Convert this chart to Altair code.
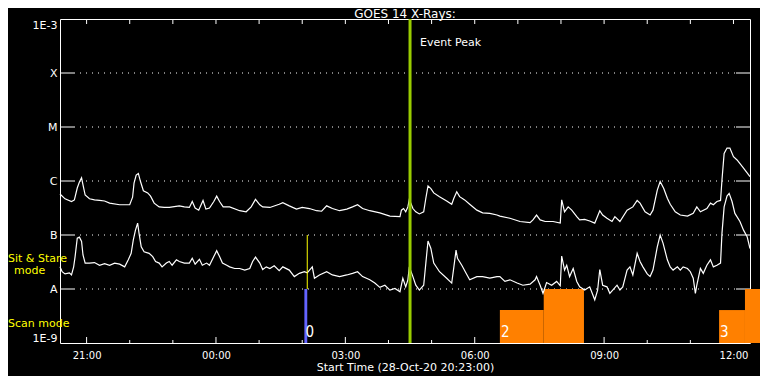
import altair as alt
import pandas as pd

FONT = "DejaVu Sans"
START = 20 + 23 / 60.0   # 20:23 UT, start of plot
SPAN_H = 16

# ---- GOES long channel (1-8 A): minutes after start, log10 flux (W/m^2)
long_min = [0, 7, 16, 20, 24, 27, 30, 32, 35, 41, 48, 55, 62, 69, 83, 97, 101, 103, 106, 109,
            112, 116, 122, 126, 131, 138, 145, 152, 166, 173, 180, 184, 188, 193, 199, 203, 208,
            214, 218, 222, 227, 236, 250, 259, 266, 272, 278, 282, 292, 305, 310, 319, 329, 337,
            347, 357, 364, 371, 379, 389, 399, 407, 414, 421, 431, 445, 459, 473, 475, 478, 481,
            484, 486, 491, 495, 500, 506, 509, 512, 516, 520, 528, 538, 545, 548, 552, 556, 563,
            570, 580, 588, 598, 608, 612, 626, 640, 654, 658, 663, 668, 675, 686, 696, 698, 702,
            707, 712, 719, 723, 730, 737, 744, 751, 755, 761, 768, 772, 779, 789, 797, 803, 807,
            814, 821, 825, 831, 835, 840, 845, 849, 856, 863, 873, 881, 886, 891, 900, 905, 909,
            914, 919, 921, 924, 928, 932, 937, 942, 951, 960]
long_log = [-6.24, -6.33, -6.38, -6.35, -6.13, -6.02, -5.94, -6.07, -6.26, -6.33, -6.35, -6.36,
            -6.37, -6.41, -6.44, -6.44, -6.30, -6.04, -5.89, -5.86, -6.01, -6.18, -6.22, -6.28,
            -6.41, -6.48, -6.49, -6.49, -6.46, -6.48, -6.49, -6.38, -6.50, -6.54, -6.36, -6.52,
            -6.50, -6.38, -6.28, -6.38, -6.48, -6.48, -6.55, -6.57, -6.48, -6.34, -6.44, -6.48,
            -6.49, -6.43, -6.40, -6.46, -6.52, -6.49, -6.51, -6.55, -6.56, -6.46, -6.51, -6.55,
            -6.52, -6.48, -6.44, -6.51, -6.55, -6.59, -6.65, -6.66, -6.54, -6.51, -6.57, -6.48,
            -6.34, -6.51, -6.57, -6.61, -6.57, -6.32, -6.09, -6.14, -6.22, -6.29, -6.37, -6.43,
            -6.32, -6.20, -6.29, -6.35, -6.43, -6.54, -6.59, -6.60, -6.63, -6.65, -6.69, -6.75,
            -6.77, -6.72, -6.63, -6.72, -6.75, -6.75, -6.78, -6.35, -6.57, -6.48, -6.54, -6.66,
            -6.72, -6.71, -6.74, -6.78, -6.55, -6.63, -6.69, -6.75, -6.66, -6.75, -6.54, -6.48,
            -6.36, -6.41, -6.57, -6.63, -6.54, -6.17, -6.01, -6.14, -6.32, -6.43, -6.57, -6.63,
            -6.65, -6.60, -6.48, -6.57, -6.51, -6.41, -6.44, -6.38, -6.36, -5.98, -5.49, -5.39,
            -5.39, -5.55, -5.61, -5.76, -5.92]

# ---- GOES short channel (0.5-4 A)
short_min = [0, 3, 7, 13, 16, 19, 21, 24, 27, 30, 32, 35, 41, 48, 55, 62, 69, 76, 83, 90, 95, 99,
             102, 105, 108, 110, 113, 117, 124, 129, 133, 138, 142, 148, 152, 156, 162, 166, 173,
             180, 184, 188, 194, 198, 204, 208, 214, 218, 222, 226, 232, 236, 243, 250, 257, 264,
             268, 272, 278, 282, 287, 292, 298, 305, 310, 319, 326, 333, 340, 344, 351, 354, 361,
             371, 379, 389, 399, 407, 414, 421, 431, 438, 445, 452, 459, 466, 473, 477, 481, 484,
             486, 491, 495, 500, 506, 509, 512, 516, 520, 528, 538, 545, 548, 551, 553, 559, 565,
             570, 580, 588, 598, 608, 612, 619, 626, 636, 644, 654, 661, 663, 668, 672, 677, 684,
             691, 696, 698, 702, 705, 709, 714, 719, 723, 730, 737, 744, 748, 751, 755, 761, 765,
             769, 775, 779, 783, 789, 793, 797, 803, 807, 811, 817, 821, 825, 831, 835, 839, 845,
             849, 853, 859, 863, 867, 873, 877, 881, 884, 886, 891, 895, 900, 905, 909, 914, 919,
             921, 924, 928, 931, 935, 939, 946, 951, 956, 960]
short_log = [-7.59, -7.68, -7.72, -7.70, -7.74, -7.59, -7.40, -7.06, -7.04, -7.12, -7.37, -7.52,
             -7.52, -7.51, -7.56, -7.53, -7.56, -7.52, -7.54, -7.59, -7.46, -7.34, -7.09, -6.91,
             -6.78, -6.97, -7.22, -7.31, -7.34, -7.40, -7.49, -7.52, -7.59, -7.52, -7.49, -7.56,
             -7.46, -7.49, -7.52, -7.52, -7.43, -7.54, -7.45, -7.56, -7.52, -7.56, -7.40, -7.29,
             -7.40, -7.52, -7.56, -7.59, -7.62, -7.62, -7.65, -7.62, -7.49, -7.41, -7.52, -7.64,
             -7.59, -7.62, -7.57, -7.66, -7.59, -7.65, -7.77, -7.71, -7.68, -7.70, -7.59, -7.80,
             -7.74, -7.68, -7.74, -7.77, -7.74, -7.71, -7.68, -7.77, -7.83, -7.89, -7.97, -7.93,
             -8.02, -7.99, -8.05, -7.80, -7.96, -7.83, -7.59, -7.77, -7.93, -8.02, -7.93, -7.52,
             -7.11, -7.25, -7.52, -7.68, -7.80, -7.89, -7.59, -7.28, -7.43, -7.56, -7.71, -7.83,
             -7.77, -7.77, -7.80, -7.77, -7.77, -7.86, -7.83, -7.89, -7.93, -7.91, -7.83, -7.77,
             -7.93, -8.08, -7.88, -7.93, -7.86, -7.94, -7.39, -7.65, -7.56, -7.77, -7.62, -7.86,
             -7.96, -8.02, -7.96, -8.20, -8.02, -7.64, -7.93, -7.96, -8.08, -8.02, -7.93, -8.02,
             -7.96, -7.65, -7.59, -7.74, -7.34, -7.49, -7.59, -7.72, -7.77, -7.65, -7.22, -7.00,
             -7.15, -7.46, -7.59, -7.65, -7.59, -7.65, -7.59, -7.62, -7.68, -7.80, -8.08, -7.93,
             -7.62, -7.71, -7.56, -7.46, -7.59, -7.56, -7.52, -6.97, -6.48, -6.28, -6.23, -6.38,
             -6.60, -6.75, -6.91, -7.03, -7.25]

# ---- y axis levels (log10 flux) and class labels
level_values = [-9, -8, -7, -6, -5, -4, -3]
level_labels = ["1E-9", "A", "B", "C", "M", "X", "1E-3"]
grid_levels = [-8, -7, -6, -5, -4]

# ---- x axis: hour ticks and labelled hours (hours of day, continuing past midnight)
tick_hours = list(range(21, 37))
label_hours = [21, 24, 27, 30, 33, 36]

# ---- mode bars (orange): start/end minutes, top level
mode_start = [612, 673, 917, 953]
mode_end = [673, 729, 953, 985]
mode_top = [-8.39, -8.0, -8.39, -8.0]
mode_num_min = [612, 917]
mode_num_txt = ["2", "3"]

# ---- blue bar, yellow marker and event peak
blue_start, blue_end, blue_top = 340, 344, -8.0
blue_txt = "0"
sit_marker_min = 344
event_peak_min = 487

to_h = lambda m: START + m / 60.0

curves = pd.DataFrame(
    [{"hour": to_h(m), "lv": v, "ch": "long"} for m, v in zip(long_min, long_log)]
    + [{"hour": to_h(m), "lv": v, "ch": "short"} for m, v in zip(short_min, short_log)]
)
grid_df = pd.DataFrame({"lv": grid_levels})
ticks_df = pd.DataFrame({"hour": tick_hours, "major": [h in label_hours for h in tick_hours]})
mode_df = pd.DataFrame({"hour": [to_h(m) for m in mode_start],
                        "hour2": [to_h(m) for m in mode_end],
                        "lv": [-9] * len(mode_start), "lv2": mode_top})
num_df = pd.DataFrame({"hour": [to_h(m) for m in mode_num_min] + [to_h(blue_start)],
                       "lv": [-8.8] * 3, "txt": mode_num_txt + [blue_txt]})
blue_df = pd.DataFrame({"hour": [to_h(blue_start)], "hour2": [to_h(blue_end)],
                        "lv": [-9], "lv2": [blue_top]})
sit_df = pd.DataFrame({"hour": [to_h(sit_marker_min)], "lv": [-7.0], "lv2": [-8.0]})
peak_df = pd.DataFrame({"hour": [to_h(event_peak_min)], "lv": [-3], "lv2": [-9],
                        "txt": ["Event Peak"], "tlv": [-3.44]})

W, H = 690, 324
XS = alt.Scale(domain=[START, START + SPAN_H], nice=False, zero=False)
YS = alt.Scale(domain=[-9, -3], nice=False, zero=False)

lab_expr = " : ".join(f"datum.value == {v} ? '{t}'" for v, t in zip(level_values, level_labels)) + " : ''"

xax = alt.Axis(values=label_hours, labelExpr="format(datum.value % 24, '02d') + ':00'",
               title="Start Time (28-Oct-20 20:23:00)", ticks=False, domain=False, grid=False,
               labelColor="white", titleColor="white", labelFont=FONT, titleFont=FONT,
               labelFontSize=10, titleFontSize=11, titleFontWeight="normal",
               labelPadding=7, titlePadding=1, labelFlush=False)
yax = alt.Axis(values=level_values, labelExpr=lab_expr, title=None, ticks=False, domain=False,
               grid=False, labelColor="white", labelFont=FONT, labelFontSize=11,
               labelPadding=3, labelFlush=True)


def X(f="hour"):
    return alt.X(f"{f}:Q", scale=XS, axis=xax)


def Y(f="lv"):
    return alt.Y(f"{f}:Q", scale=YS, axis=yax)


lines = alt.Chart(curves).mark_line(color="white", strokeWidth=1.2).encode(
    x=X(), y=Y(), detail="ch:N")

grid = alt.Chart(grid_df).mark_rule(color="white", strokeDash=[1, 5], strokeWidth=1).encode(
    x=alt.value(14), x2=alt.value(W - 14), y=Y())
ytick_l = alt.Chart(grid_df).mark_rule(color="white").encode(x=alt.value(0), x2=alt.value(14), y=Y())
ytick_r = alt.Chart(grid_df).mark_rule(color="white").encode(x=alt.value(W - 14), x2=alt.value(W), y=Y())

maj = ticks_df[ticks_df.major]
mnr = ticks_df[~ticks_df.major]
xt_b_maj = alt.Chart(maj).mark_rule(color="white").encode(x=X(), y=alt.value(H - 6), y2=alt.value(H))
xt_b_min = alt.Chart(mnr).mark_rule(color="white").encode(x=X(), y=alt.value(H - 3), y2=alt.value(H))
xt_t = alt.Chart(ticks_df).mark_rule(color="white").encode(x=X(), y=alt.value(0), y2=alt.value(5))

modes = alt.Chart(mode_df).mark_rect(color="#ff8000", clip=False).encode(
    x=X(), x2="hour2:Q", y=Y(), y2="lv2:Q")
blue = alt.Chart(blue_df).mark_rect(color="#6464ff").encode(x=X(), x2="hour2:Q", y=Y(), y2="lv2:Q")

peak = alt.Chart(peak_df).mark_rule(color="#99cc00", strokeWidth=3).encode(x=X(), y=Y(), y2="lv2:Q")
peak_txt = alt.Chart(peak_df).mark_text(color="white", align="left", baseline="middle", dx=10,
                                        font=FONT, fontSize=11).encode(
    x=X(), y=Y("tlv"), text="txt:N")
sit = alt.Chart(sit_df).mark_rule(color="#ffff00", strokeWidth=1).encode(x=X(), y=Y(), y2="lv2:Q")
nums = alt.Chart(num_df).mark_text(color="white", align="left", baseline="middle", dx=1,
                                   font="Liberation Sans Narrow, DejaVu Sans Condensed, DejaVu Sans",
                                   fontSize=15).encode(x=X(), y=Y(), text="txt:N")

side1 = alt.Chart(grid_df.head(1)).mark_text(text="Sit & Stare", color="#ffff00", align="left",
                                            baseline="middle", font=FONT, fontSize=11).encode(
    x=alt.value(-52), y=alt.value(240))
side2 = alt.Chart(grid_df.head(1)).mark_text(text="mode", color="#ffff00", align="left",
                                            baseline="middle", font=FONT, fontSize=11).encode(
    x=alt.value(-46), y=alt.value(252))
side3 = alt.Chart(grid_df.head(1)).mark_text(text="Scan mode", color="#ffff00", align="left",
                                            baseline="middle", font=FONT, fontSize=11).encode(
    x=alt.value(-52), y=alt.value(305))

chart = alt.layer(
    grid, ytick_l, ytick_r, xt_b_maj, xt_b_min, xt_t, modes, blue, lines, peak, sit,
    peak_txt, nums, side1, side2, side3
).properties(
    width=W, height=H,
    title=alt.TitleParams("GOES 14 X-Rays:", color="white", font=FONT, fontSize=12,
                          fontWeight="normal", anchor="middle", offset=1, dy=4),
    autosize=alt.AutoSizeParams(type="none"),
    padding={"left": 52, "top": 11, "right": 10, "bottom": 33},
    background="black",
).configure_view(stroke="white", strokeWidth=1)

chart.save("out.html", embed_options={"renderer": "svg", "actions": False})
